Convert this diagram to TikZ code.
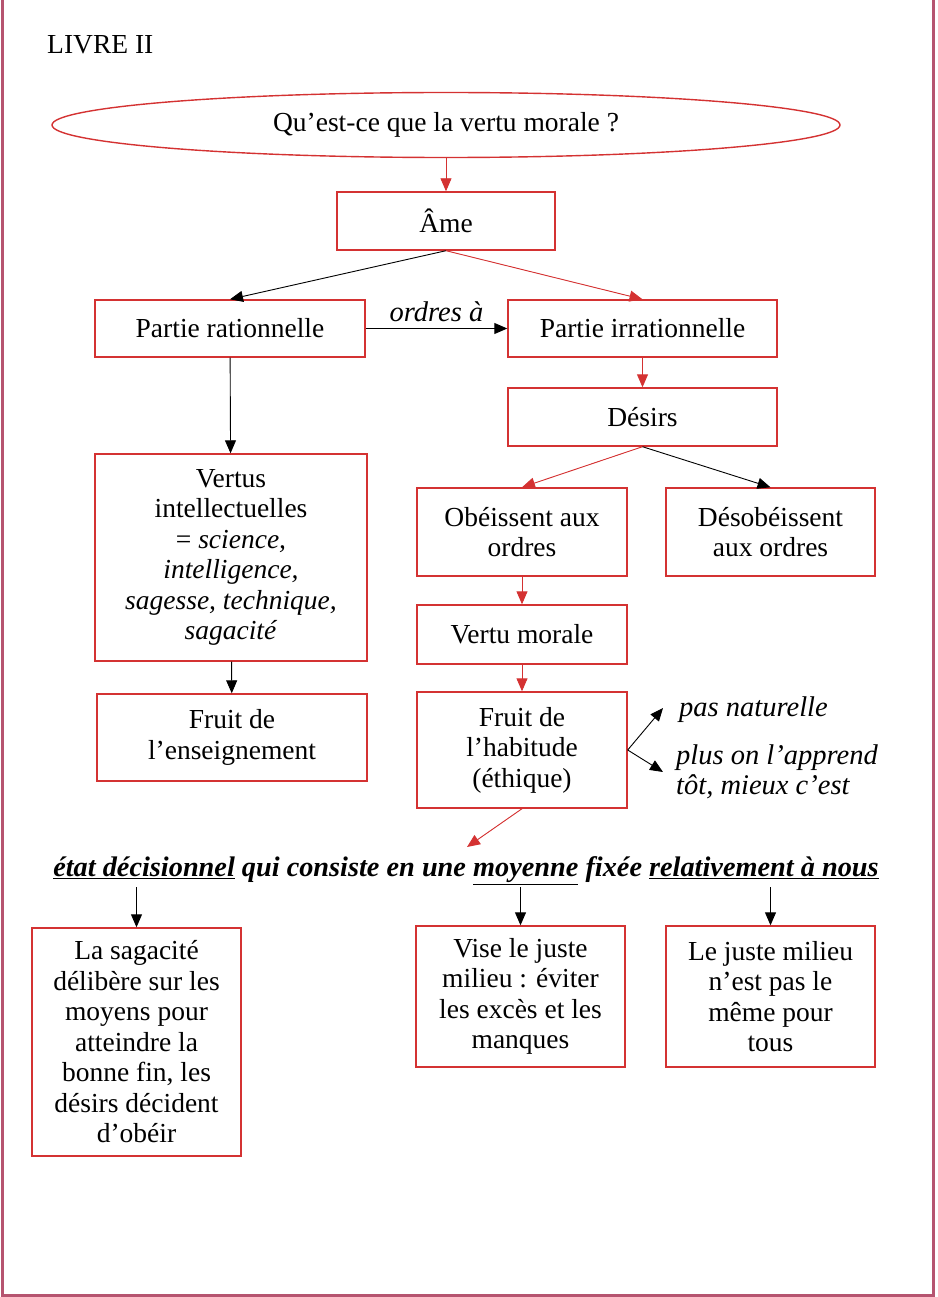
\documentclass[tikz,border=0pt]{standalone}
\usepackage{fontspec}
\setmainfont{Liberation Serif}
\usetikzlibrary{arrows.meta,shapes.geometric}
\definecolor{boxred}{RGB}{212,50,50}
\definecolor{framecol}{RGB}{182,84,112}
\newcommand{\mainf}{\fontsize{27.5}{30.5}\selectfont}
\newcommand{\labf}{\fontsize{28.5}{30}\selectfont}
\tikzset{
  box/.style={draw=boxred, line width=1.4pt, fill=white, align=center, inner sep=2pt, font=\mainf},
  lab/.style={font=\labf\itshape, inner sep=0pt},
  arrb/.style={-{Triangle[length=13pt,width=11pt]}, line width=0.9pt, draw=black},
  arrr/.style={-{Triangle[length=13pt,width=11pt]}, line width=0.9pt, draw=boxred, fill=boxred},
}
\begin{document}
\begin{tikzpicture}[x=1pt,y=-1pt]
\useasboundingbox (0,0) rectangle (937,1297);
\draw[framecol, line width=3pt] (2,-2) -- (2,1295.5) -- (933,1295.5) -- (933,-2);

\node[font=\mainf, anchor=west, inner sep=0pt] (title) at (47,45) {LIVRE II};

\node[ellipse, draw=boxred, line width=1.4pt, minimum width=788pt, minimum height=65pt, inner sep=0pt, font=\mainf] (q) at (446,125) {Qu’est-ce que la vertu morale ?};
\node[box, minimum width=218pt, minimum height=58pt] (ame) at (446,221) {Âme};
\node[box, minimum width=270pt, minimum height=57pt] (pr) at (230,328.5) {Partie rationnelle};
\node[box, minimum width=269pt, minimum height=57pt] (pi) at (642.5,328.5) {Partie irrationnelle};
\node[box, minimum width=269pt, minimum height=58pt] (des) at (642.5,417) {Désirs};
\node[box, minimum width=272pt, minimum height=207pt] (vi) at (231,557.5) {Vertus\\intellectuelles\\= \textit{science,}\\\textit{intelligence,}\\\textit{sagesse, technique,}\\\textit{sagacité}};
\node[box, minimum width=210pt, minimum height=88pt] (ob) at (522,532) {Obéissent aux\\ordres};
\node[box, minimum width=209pt, minimum height=88pt] (dob) at (770.5,532) {Désobéissent\\aux ordres};
\node[box, minimum width=210pt, minimum height=59pt] (vm) at (522,634.5) {Vertu morale};
\node[box, minimum width=270pt, minimum height=87pt] (fe) at (232,737.5) {Fruit de\\l’enseignement};
\node[box, minimum width=210pt, minimum height=116pt] (fh) at (522,750) {Fruit de\\l’habitude\\(éthique)};

\node[lab, anchor=west] (pn) at (679,710) {pas naturelle};
\node[lab, anchor=west, align=left] (pl) at (676,772) {plus on l’apprend\\tôt, mieux c’est};
\coordinate (t1) at (663,708);
\coordinate (t2) at (663,772);
\coordinate (fl) at (467,847);

\node[font=\fontsize{28.3}{30}\selectfont\bfseries\itshape, inner sep=2pt] (line) at (466,871) {\underline{état décisionnel} qui consiste en une \underline{moyenne} fixée \underline{relativement à nous}};

\node[box, minimum width=209pt, minimum height=228pt] (sag) at (136.5,1042) {La sagacité\\délibère sur les\\moyens pour\\atteindre la\\bonne fin, les\\désirs décident\\d’obéir};
\node[box, minimum width=209pt, minimum height=141pt] (vise) at (520.5,996.5) {Vise le juste\\milieu : éviter\\les excès et les\\manques};
\node[box, minimum width=209pt, minimum height=141pt] (ljm) at (770.5,996.5) {Le juste milieu\\n’est pas le\\même pour\\tous};

\draw[arrr] (q) -- (ame);
\draw[arrb] (ame.south) -- (pr.north);
\draw[arrr] (ame.south) -- (pi.north);
\draw[arrb] (pr.east) -- node[lab, above=6pt] {ordres à} (pi.west);
\draw[arrb] (pr) -- (vi);
\draw[arrr] (pi) -- (des);
\draw[arrr] (des.south) -- (ob.north);
\draw[arrb] (des.south) -- (dob.north);
\draw[arrr] (ob) -- (vm);
\draw[arrr] (vm) -- (fh);
\draw[arrb] (vi) -- (fe);
\draw[arrb] (fh.east) -- (t1);
\draw[arrb] (fh.east) -- (t2);
\draw[arrr] (fh.south) -- (fl);
\draw[arrb] (line.south -| sag.north) -- (sag.north);
\draw[arrb] (line.south -| vise.north) -- (vise.north);
\draw[arrb] (line.south -| ljm.north) -- (ljm.north);
\end{tikzpicture}
\end{document}
